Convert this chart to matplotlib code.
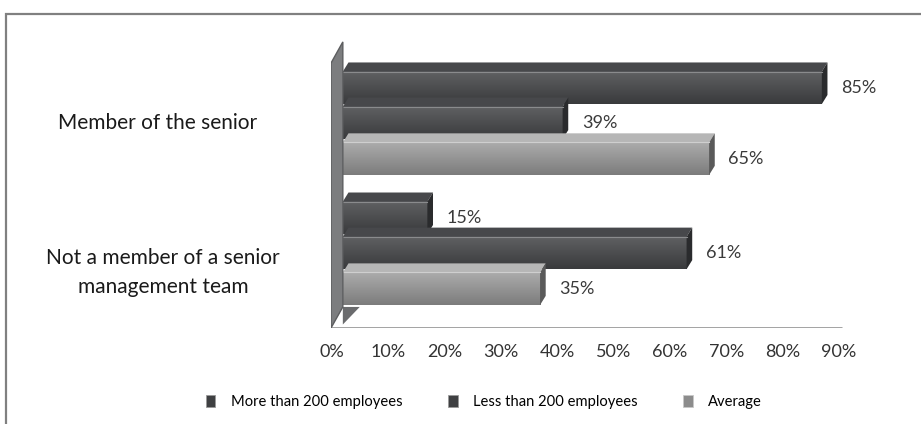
import numpy as np
import matplotlib
matplotlib.use("Agg")
import matplotlib.pyplot as plt
from matplotlib.patches import Polygon, Rectangle, Patch
from matplotlib.colors import LinearSegmentedColormap
import matplotlib.transforms as mtransforms

plt.rcParams['font.family'] = ['Lato', 'DejaVu Sans']

# data
categories = ["Member of the senior", "Not a member of a senior\nmanagement team"]
series_names = ["More than 200 employees", "Less than 200 employees", "Average"]
more_than_200 = [85, 15]
less_than_200 = [39, 61]
average = [65, 35]
xticks = [0, 10, 20, 30, 40, 50, 60, 70, 80, 90]

series = [more_than_200, less_than_200, average]
# front gradient (top, bottom), top face, right face
styles = [
    ("#606163", "#393a3c", "#47484b", "#2a2b2d"),
    ("#606163", "#393a3c", "#47484b", "#2a2b2d"),
    ("#acacac", "#7c7c7c", "#b6b6b6", "#5a5a5a"),
]

fig = plt.figure(figsize=(9.21, 4.24), dpi=100)
ax = fig.add_axes([331 / 921, 1 - 328.4 / 424, 519 / 921, (328.4 - 41) / 424])
ax.set_xlim(-2.1, 88.9)
ax.set_ylim(1.58, -0.63)

offsets = [-0.27, 0.0, 0.275]
h = 0.25
dx, dy = 1.0, 0.07

# shadow at the foot of the wall
ax.add_patch(Polygon([(0, 1.415), (3.0, 1.415), (0, 1.55)], closed=True,
                     fc="#6a6b6d", ec="none", zorder=1))
# floor
ax.plot([-2.1, 88.6], [1.577, 1.577], color="#9a9a9a", lw=2, zorder=1,
        solid_capstyle="butt")

z = 2
for g in range(len(categories)):
    for s, vals in enumerate(series):
        v = vals[g]
        y = g + offsets[s]
        top, bot = y - h / 2, y + h / 2
        c_top, c_bot, c_lid, c_side = styles[s]
        cmap = LinearSegmentedColormap.from_list("g", [c_top, c_bot])
        grad = np.linspace(0, 1, 64).reshape(-1, 1)
        ax.imshow(grad, cmap=cmap, extent=(0, v, bot, top), origin="upper",
                  aspect="auto", zorder=z, interpolation="bilinear")
        ax.add_patch(Polygon([(0, top), (v, top), (v + dx, top - dy), (dx, top - dy)],
                             closed=True, fc=c_lid, ec="none", zorder=z))
        ax.plot([0, v], [top, top], color="#8a8b8d" if s < 2 else "#cfcfcf",
                lw=0.8, zorder=z + 0.5)
        ax.add_patch(Polygon([(v, top), (v, bot), (v + dx, bot - dy), (v + dx, top - dy)],
                             closed=True, fc=c_side, ec="none", zorder=z))
        ax.text(v + 3.4, y, f"{v}%", ha="left", va="center", fontsize=13,
                color="#3a3a3a", zorder=z + 1,
                bbox=dict(fc="white", ec="none", pad=1.5) if s == 1 and g == 0 else None)
        z += 1

# wall on top so bars start behind it
ax.add_patch(Polygon([(-2.1, 1.577), (-2.1, -0.46), (0, -0.623), (0, 1.415)],
                     closed=True, fc="#7c7d7f", ec="#5c5d5f", lw=1, zorder=z + 2))

# category labels
lab_tr = mtransforms.blended_transform_factory(fig.transFigure, ax.transData)
ax.text(158 / 921, 0.0, categories[0], transform=lab_tr, ha="center", va="center",
        fontsize=15, color="#1a1a1a")
ax.text(163 / 921, 1.15, categories[1], transform=lab_tr, ha="center", va="center",
        fontsize=15, color="#1a1a1a", linespacing=1.6)

ax.set_xticks(xticks)
ax.set_xticklabels([f"{t}%" for t in xticks], fontsize=13, color="#333333")
ax.tick_params(axis="x", length=0, pad=11)
shift = mtransforms.ScaledTranslation(-11 / 100, 0, fig.dpi_scale_trans)
for lab in ax.get_xticklabels():
    lab.set_transform(lab.get_transform() + shift)
ax.set_yticks([])
for sp in ax.spines.values():
    sp.set_visible(False)

# outer frame
fig.patches.append(Rectangle((6 / 921, -0.1), 1.2, 1 - 14 / 424 + 0.1,
                             transform=fig.transFigure, fill=False,
                             ec="#808080", lw=1.6))

handles = [Patch(fc="#3f4042", ec="#9a9a9a", lw=0.6),
           Patch(fc="#3f4042", ec="#9a9a9a", lw=0.6),
           Patch(fc="#8c8c8c", ec="#c8c8c8", lw=0.6)]
fig.legend(handles, series_names, ncol=3, loc="center",
           bbox_to_anchor=(484 / 921, 1 - 402 / 424), frameon=False,
           fontsize=10.6, handlelength=0.65, handleheight=0.95,
           handletextpad=1.05, columnspacing=3.1)

fig.savefig("out.png", dpi=100)
